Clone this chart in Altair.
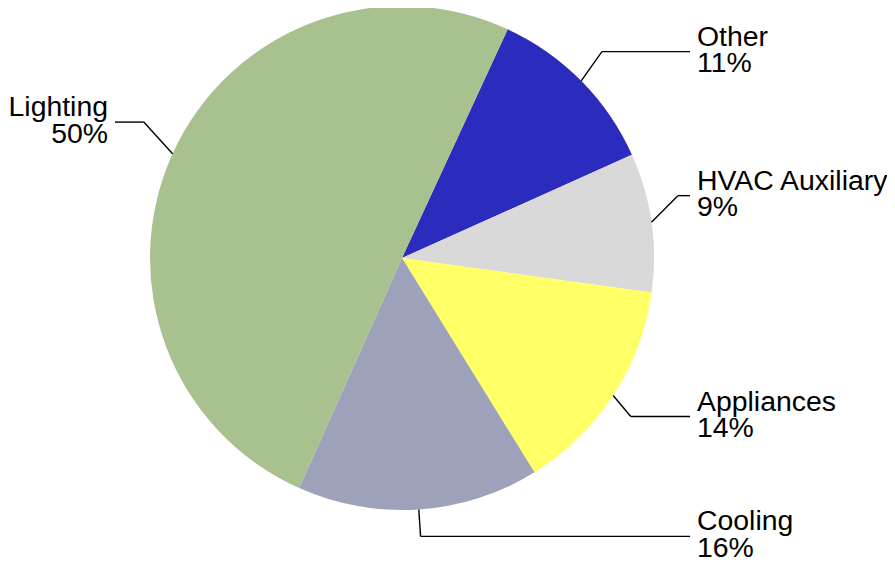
import math
import altair as alt
import pandas as pd

# ---- data ----
categories = ["Other", "HVAC Auxiliary", "Appliances", "Cooling", "Lighting"]
shares = [11.4, 8.9, 14.0, 15.5, 50.2]
colors = ["#2B2BBE", "#D9D9D9", "#FFFF66", "#9EA1BA", "#A9C18F"]

# ---- layout (pixels inside the plot area) ----
W, H = 879, 550
CX, CY, R = 394, 250, 252
START = math.radians(24.8)
LABEL_R = 285
label_nudge = [-6, -22, 3, -6, -18]
RIGHT_LINE_END, RIGHT_TEXT_X = 682, 689
LEFT_LINE_END, LEFT_TEXT_X = 107, 100
FONT = "Liberation Sans"
FS = 28.4
LH = 26.7
TEXT_DY = -6

df = pd.DataFrame({
    "category": categories,
    "share": shares,
    "idx": list(range(len(categories))),
    "nudge": label_nudge,
})

base = alt.Chart(df)

geo = (
    base.transform_joinaggregate(total="sum(share)")
    .transform_window(cum="sum(share)", sort=[alt.SortField("idx")], frame=[None, 0])
    .transform_calculate(
        mid=f"{START} + 2*PI*(datum.cum - datum.share/2)/datum.total",
    )
    .transform_calculate(
        ex=f"{CX} + {R}*sin(datum.mid)",
        ey=f"{CY} - {R}*cos(datum.mid)",
        ly=f"{CY} - {LABEL_R}*cos(datum.mid) + datum.nudge",
        side="sin(datum.mid) >= 0 ? 1 : -1",
        txt="datum.category + '\\n' + format(datum.share, '.0f') + '%'",
    )
    .transform_calculate(
        bx="datum.ex + sin(datum.mid)*abs(datum.ly - datum.ey)",
        lend=f"datum.side > 0 ? {RIGHT_LINE_END} : {LEFT_LINE_END}",
    )
)

pie = base.mark_arc(outerRadius=R, stroke=None).encode(
    theta=alt.Theta("share:Q", stack=True,
                    scale=alt.Scale(range=[START, START + 2 * math.pi])),
    color=alt.Color("category:N",
                    scale=alt.Scale(domain=categories, range=colors),
                    legend=None),
    order=alt.Order("idx:Q"),
    x=alt.value(CX),
    y=alt.value(CY),
)

diag = geo.mark_rule(color="black", strokeWidth=1.4).encode(
    x=alt.X("ex:Q", scale=None, axis=None),
    y=alt.Y("ey:Q", scale=None, axis=None),
    x2="bx:Q",
    y2="ly:Q",
)

horiz = geo.mark_rule(color="black", strokeWidth=1.4).encode(
    x=alt.X("bx:Q", scale=None, axis=None),
    y=alt.Y("ly:Q", scale=None, axis=None),
    x2="lend:Q",
    y2="ly:Q",
)

txt_right = geo.transform_filter("datum.side > 0").mark_text(
    align="left", baseline="alphabetic", font=FONT, fontSize=FS,
    lineBreak="\n", lineHeight=LH, color="black", dy=TEXT_DY,
).encode(
    x=alt.value(RIGHT_TEXT_X),
    y=alt.Y("ly:Q", scale=None, axis=None),
    text="txt:N",
)

txt_left = geo.transform_filter("datum.side < 0").mark_text(
    align="right", baseline="alphabetic", font=FONT, fontSize=FS,
    lineBreak="\n", lineHeight=LH, color="black", dy=TEXT_DY,
).encode(
    x=alt.value(LEFT_TEXT_X),
    y=alt.Y("ly:Q", scale=None, axis=None),
    text="txt:N",
)

chart = (
    alt.layer(pie, diag, horiz, txt_right, txt_left)
    .properties(width=W, height=H, padding=0,
                autosize=alt.AutoSizeParams(type="none"),
                background="white")
    .configure_view(stroke=None)
)

chart.save("out.html", embed_options={"renderer": "svg", "actions": False})
